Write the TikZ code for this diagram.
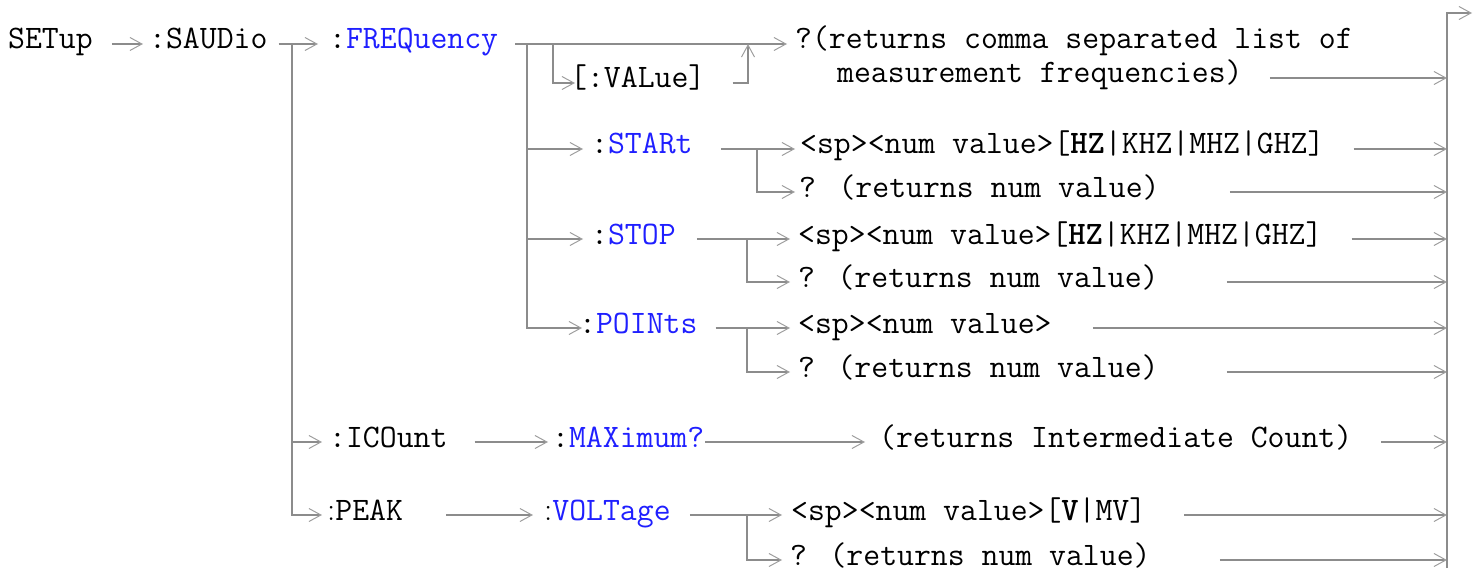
\documentclass[tikz,border=0pt]{standalone}
\usetikzlibrary{calc, positioning, arrows.meta}
\usepackage{xcolor}
\definecolor{linegray}{HTML}{8C8C8C}
\definecolor{tipgray}{HTML}{9E9E9E}
\definecolor{cmdblue}{HTML}{1F1FFF}
\newcommand{\cmdfont}{\ttfamily\fontsize{32.8}{36}\selectfont}
\newcommand{\kw}[1]{\textcolor{cmdblue}{#1}}
\newcommand{\nc}{{\rmfamily:}}

\begin{document}
\begin{tikzpicture}[x=1pt, y=-1pt,
  cmd/.style={anchor=west, inner sep=0pt, text height=20pt, text depth=10pt, font=\cmdfont},
  ln/.style={draw=linegray, line width=1.9pt},
  arr/.style={ln, -{Straight Barb[length=12pt, width=13pt, line width=1pt, color=tipgray]}}]

\useasboundingbox (0,0) rectangle (1479,572);

% Root and subsystem
\node[cmd] (setup) at (8,44) {SETup};
\node[cmd] (saudio) at (149,44) {:SAUDio};

% FREQuency branch
\node[cmd] (freq) at (329,44) {:\kw{FREQuency}};
\node[cmd] (value) at (570,83) {[:VALue]};
\node[cmd] (retA) at (795,44) {?(returns comma separated list of};
\node[cmd] (retB) at (837,78) {measurement frequencies)};
\node[cmd] (start) at (591,149) {:\kw{STARt}};
\node[cmd] (stv) at (800,149) {<sp><num value>[\textbf{HZ}|KHZ|MHZ|GHZ]};
\node[cmd] (stq) at (799,192) {? (returns num value)};
\node[cmd] (stop) at (591,239) {:\kw{STOP}};
\node[cmd] (spv) at (798,239) {<sp><num value>[\textbf{HZ}|KHZ|MHZ|GHZ]};
\node[cmd] (spq) at (798,282) {? (returns num value)};
\node[cmd] (points) at (579,328) {:\kw{POINts}};
\node[cmd] (ptv) at (798,328) {<sp><num value>};
\node[cmd] (ptq) at (798,372) {? (returns num value)};

% ICOunt branch
\node[cmd] (icount) at (329,442) {:ICOunt};
\node[cmd] (maxi) at (552,442) {:\kw{MAXimum?}};
\node[cmd] (inter) at (879,442) {(returns Intermediate Count)};

% PEAK branch
\node[cmd] (peak) at (327,515) {\nc PEAK};
\node[cmd] (volt) at (544,515) {\nc\kw{VOLTage}};
\node[cmd] (vval) at (791,515) {<sp><num value>[\textbf{V}|MV]};
\node[cmd] (vq) at (790,560) {? (returns num value)};

% Junction points
\coordinate (sbus) at (292,44);
\coordinate (fbus) at (527,44);
\coordinate (vbus) at (553,44);
\coordinate (vret) at (748,44);
\coordinate (stb) at (757,149);
\coordinate (spb) at (747,239);
\coordinate (ptb) at (747,328);
\coordinate (vob) at (747,515);
\coordinate (rbus) at (1447,13);
\coordinate (rbot) at (1447,568);
\coordinate (rout) at (1472,13);

% SETup -> SAUDio -> branches
\draw[arr] ([xshift=19]setup.east) -- ([xshift=-6]saudio.west);
\draw[arr] ([xshift=11]saudio.east) -- ([xshift=-11]freq.west);
\draw[arr] (sbus |- icount) -- ([xshift=-7]icount.west);
\draw[arr] (sbus) |- ([xshift=-5]peak.west);

% FREQuency
\draw[arr] ([xshift=17]freq.east) -- ([xshift=-8]retA.west);
\draw[arr] (vbus) |- ([xshift=5]value.west);
\draw[arr] ([xshift=27]value.east) -| (vret);
\draw[arr] (fbus |- start) -- ([xshift=-8]start.west);
\draw[arr] (fbus |- stop) -- ([xshift=-8]stop.west);
\draw[arr] (fbus) |- ([xshift=3]points.west);

% STARt, STOP, POINts
\draw[arr] ([xshift=28]start.east) -- ([xshift=-5]stv.west);
\draw[arr] (stb) |- ([xshift=-4]stq.west);
\draw[arr] ([xshift=21]stop.east) -- ([xshift=-8]spv.west);
\draw[arr] (spb) |- ([xshift=-8]spq.west);
\draw[arr] ([xshift=18]points.east) -- ([xshift=-8]ptv.west);
\draw[arr] (ptb) |- ([xshift=-8]ptq.west);

% ICOunt and PEAK
\draw[arr] ([xshift=27]icount.east) -- ([xshift=-4]maxi.west);
\draw[arr] ([xshift=1]maxi.east) -- ([xshift=-14]inter.west);
\draw[arr] ([xshift=43]peak.east) -- ([xshift=-11]volt.west);
\draw[arr] ([xshift=19]volt.east) -- ([xshift=-9]vval.west);
\draw[arr] (vob) |- ([xshift=-8]vq.west);

% Right bus
\foreach \n/\s in {retB/27, stv/29, stq/70, spv/29, spq/68, ptv/41, ptq/68, inter/29, vval/38, vq/69}
  \draw[arr] ([xshift=\s]\n.east) -- (\n.east -| rbus);
\draw[arr] (rbot) |- (rout);

\end{tikzpicture}
\end{document}
